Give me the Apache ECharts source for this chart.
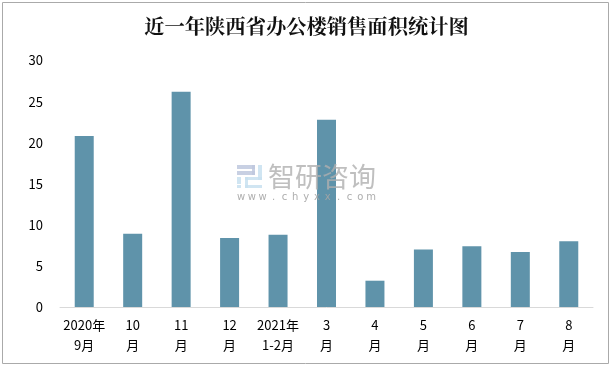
<!DOCTYPE html>
<html><head><meta charset="utf-8">
<style>html,body{margin:0;padding:0;background:#fff}#c{width:613px;height:368px}</style>
<script src="https://cdn.jsdelivr.net/npm/echarts@6/dist/echarts.min.js"></script>
</head><body><div id="c"></div>
<script>
const titleText = '近一年陕西省办公楼销售面积统计图';
const categories = ['2020年\n9月','10\n月','11\n月','12\n月','2021年\n1-2月','3\n月','4\n月','5\n月','6\n月','7\n月','8\n月'];
const values = [20.8,8.9,26.2,8.4,8.8,22.8,3.2,7.0,7.4,6.7,8.0];
const wmName = '智研咨询';
const wmUrl = 'www.chyxx.com';
const font = '"Noto Sans CJK SC","Liberation Sans",sans-serif';
const logoDark = 'rgba(190,200,222,.85)';
const logoLight = 'rgba(200,225,240,.85)';
const logoRect = (x,y,w,h,fill)=>({type:'rect',z:100,silent:true,shape:{x,y,width:w,height:h},style:{fill}});
const urlChars = wmUrl.split('').map((ch,i)=>({type:'text',z:100,silent:true,
  style:{x:241+i*10.85,y:197,text:ch,font:'10px "DejaVu Sans",sans-serif',fill:'rgba(165,165,165,.9)',align:'center',verticalAlign:'middle'}}));
const chart = echarts.init(document.getElementById('c'), null, {renderer:'canvas'});
chart.setOption({
  animation:false,
  backgroundColor:'#fff',
  title:{text:titleText,left:'center',top:11,
    textStyle:{fontFamily:'"Noto Serif CJK SC","Liberation Serif","Noto Sans CJK SC",serif',fontSize:20.3,fontWeight:'bold',color:'#111'}},
  grid:{left:60,right:20,top:60.5,bottom:61,containLabel:false},
  xAxis:{type:'category',data:categories,
    axisLine:{lineStyle:{color:'#d9d9d9',width:1}},axisTick:{show:false},
    axisLabel:{interval:0,color:'#000',fontFamily:font,fontSize:13,lineHeight:20,margin:8}},
  yAxis:{type:'value',min:0,max:30,interval:5,
    axisLine:{show:false},axisTick:{show:false},splitLine:{show:false},
    axisLabel:{color:'#000',fontFamily:font,fontSize:13,margin:17}},
  series:[{type:'bar',data:values,barWidth:19,itemStyle:{color:'#5f93aa'}}],
  graphic:[
    {type:'rect',z:0,silent:true,shape:{x:2.5,y:2.5,width:606,height:361},style:{fill:'none',stroke:'#aaaaaa',lineWidth:1}},
    logoRect(237,165,18,4,logoDark),
    logoRect(252,165,3,10,logoDark),
    logoRect(237,171,18,4,logoDark),
    logoRect(237,177,4,7,logoLight),
    logoRect(237,185,4,3,logoLight),
    logoRect(258,165,4,15,logoLight),
    logoRect(245,177,17,3,logoLight),
    logoRect(245,177,3,11,logoLight),
    logoRect(245,185,17,3,logoLight),
    {type:'text',z:100,silent:true,style:{x:268,y:177,text:wmName,font:'27px '+font,fill:'rgba(175,175,175,.8)',verticalAlign:'middle'}},
    ...urlChars
  ]
});
</script></body></html>
